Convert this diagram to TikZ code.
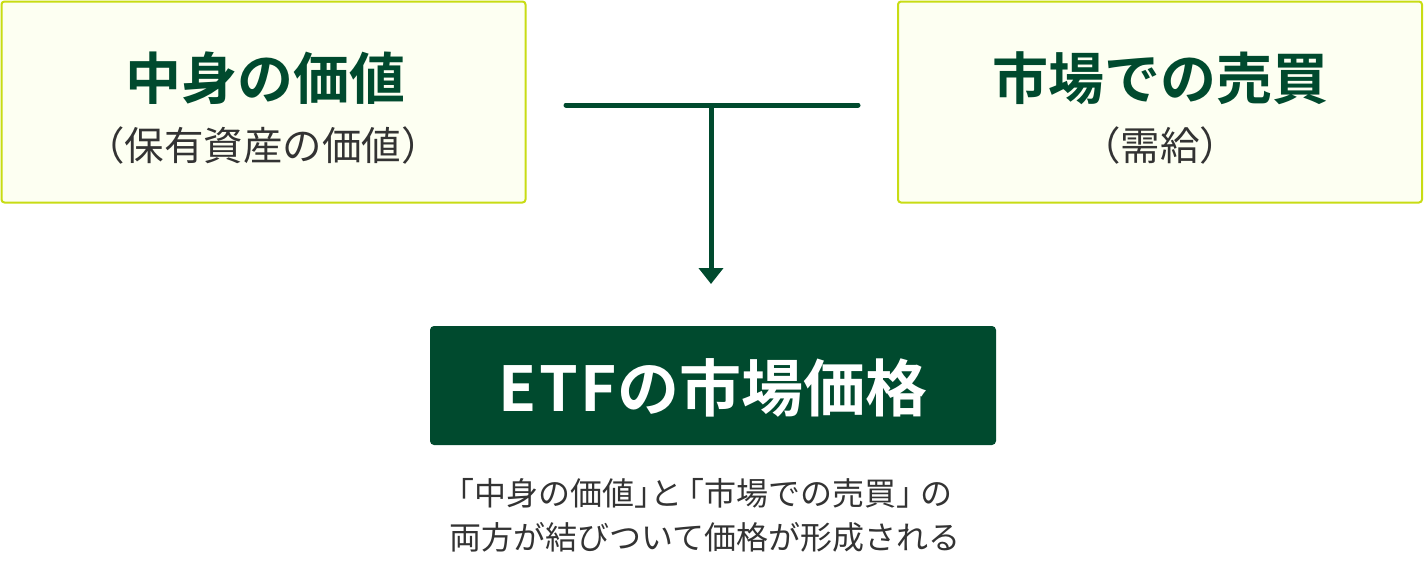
\documentclass[tikz,border=0pt]{standalone}
\usepackage{fontspec}
\newfontfamily\cjk{Noto Sans CJK JP}
\newfontfamily\cjkb{Noto Sans CJK JP Bold}
\newfontfamily\cjkh[RawFeature=+halt]{Noto Sans CJK JP}
\newfontfamily\cjkbs[LetterSpace=4]{Noto Sans CJK JP Bold}
\usetikzlibrary{arrows.meta}
\definecolor{dgreen}{RGB}{0,74,46}
\definecolor{lime}{RGB}{200,220,20}
\definecolor{cream}{RGB}{253,255,242}
\definecolor{txt}{RGB}{51,51,51}
\newcommand{\hb}[1]{{\cjkh #1}}
\tikzset{
  srcbox/.style={draw=lime, line width=2pt, fill=cream, rounded corners=3pt, minimum width=524pt, minimum height=201pt, inner sep=0pt},
  title/.style={font=\cjkb\fontsize{56}{56}\selectfont, text=dgreen, inner sep=0pt},
  sub/.style={font=\cjk\fontsize{39.5}{39.5}\selectfont, text=txt, inner sep=0pt},
  conn/.style={draw=dgreen, line width=5pt},
}
\begin{document}
\begin{tikzpicture}[x=1pt,y=-1pt]
\useasboundingbox (0,0) rectangle (1424,560);
\node[srcbox] (L) at (263.5,102) {};
\node[srcbox] (R) at (1160,102) {};
\node[title] (Lt) at (265,78) {中身の価値};
\node[sub] (Ls) at (263,145) {（保有資産の価値）};
\node[title] (Rt) at (1160,78) {市場での売買};
\node[sub] (Rs) at (1160,145) {（需給）};
\coordinate (h1) at (566,105);
\coordinate (h2) at (858,105);
\coordinate (hm) at (711,105);
\coordinate (tip) at (711,284);
\draw[conn, line cap=round] (h1) -- (h2);
\draw[conn, -{Triangle[width=24pt,length=16pt]}] (hm) -- (tip);
\node[fill=dgreen, rounded corners=4pt, minimum width=566pt, minimum height=119pt, inner sep=0pt] (E) at (713,385.5) {};
\node[font=\cjkb\fontsize{62}{62}\selectfont, text=white, inner sep=0pt] (Et) at (713,388) {{\cjkbs ETF}の市場価格};
\node[font=\cjk\fontsize{32}{44}\selectfont, text=txt, align=center, inner sep=0pt] (note) at (705,515) {\hb{「}中身の価値\hb{」}と\hspace{6pt}\hb{「}市場での売買\hb{」}\hspace{8pt}の\\両方が結びついて価格が形成される};
\end{tikzpicture}
\end{document}
